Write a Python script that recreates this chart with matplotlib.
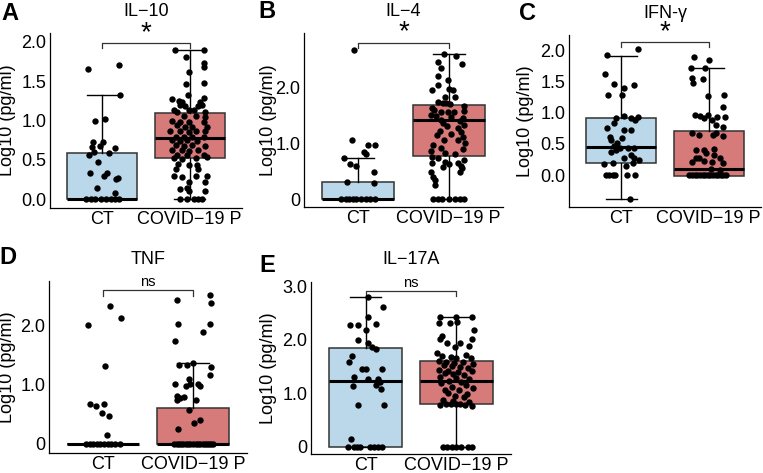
import matplotlib
matplotlib.use("Agg")
import numpy as np
import matplotlib.pyplot as plt

plt.rcParams['font.family'] = ['Liberation Sans', 'DejaVu Sans']

groups = ["CT", "COVID\u221219 P"]
titles = ["IL\u221210", "IL\u22124", "IFN-\u03b3", "TNF", "IL\u221217A"]
letters = ["A", "B", "C", "D", "E"]
signif = ["*", "*", "*", "ns", "ns"]

# box stats per panel : (whislo, q1, med, q3, whishi) for CT and COVID
box_ct = [(0, 0, 0, 0.59, 1.32), (0, 0, 0, 0.30, 0.74), (-0.39, 0.20, 0.45, 0.91, 1.90),
          (0, 0, 0, 0, 0), (0, 0, 1.23, 1.85, 2.80)]
box_cov = [(0, 0.53, 0.78, 1.10, 1.89), (0, 0.78, 1.41, 1.68, 2.59), (-0.02, -0.02, 0.09, 0.71, 1.72),
           (0, 0, 0, 0.60, 1.36), (0, 0.80, 1.23, 1.60, 2.42)]

# IL-10
il10_ct = [1.65, 1.71, 1.32, 0.99, 1.02, 0.73, 0.73, 0.67, 0.68, 0.65, 0.60, 0.56, 0.59, 0.47, 0.33,
           0.34, 0.29, 0.27, 0.26, 0.14, 0.08, 0, 0, 0, 0, 0, 0, 0, 0]
il10_ct_jit = [-0.16, 0.19, 0.20, -0.09, 0.03, -0.11, 0.01, -0.12, -0.03, 0.15, -0.10, -0.15, 0.08, -0.05, -0.14,
               0.05, 0.02, 0.18, 0.16, -0.06, 0.15, -0.19, -0.13, -0.08, -0.02, 0.04, 0.10, 0.15, 0.19]
il10_cov = [1.89, 1.89, 1.81, 1.73, 1.68, 1.62, 1.46, 1.47, 1.32, 1.29, 1.27, 1.25, 1.23, 1.23, 1.20, 1.18, 1.18,
            1.20, 1.13, 1.11, 1.13, 1.13, 1.11, 1.06, 1.06, 1.05, 0.99, 0.98, 0.98, 0.98, 0.94, 0.92, 0.92, 0.92,
            0.87, 0.87, 0.86, 0.87, 0.87, 0.79, 0.79, 0.79, 0.79, 0.75, 0.74, 0.75, 0.74, 0.69, 0.68, 0.69, 0.68,
            0.62, 0.62, 0.61, 0.62, 0.56, 0.56, 0.56, 0.52, 0.51, 0.52, 0.54, 0.45, 0.44, 0.44, 0.39, 0.39, 0.30,
            0.28, 0.30, 0.29, 0.22, 0.22, 0.15, 0.13, 0.10, 0.10, 0, 0, 0, 0, 0]
il10_cov_jit = [-0.17, 0.16, -0.04, 0.17, 0.17, -0.01, -0.04, 0.16, -0.02, 0.16, -0.20, -0.12, -0.09, 0.12, -0.11,
                -0.05, 0.10, 0.14, -0.18, -0.14, -0.01, 0.05, 0.18, -0.07, 0.07, 0.18, -0.20, -0.11, -0.01, 0.16,
                -0.14, -0.05, 0.03, 0.20, -0.22, -0.11, -0.01, 0.07, 0.18, -0.16, -0.07, 0.03, 0.16, -0.20, -0.11,
                -0.03, 0.08, -0.16, -0.07, 0.03, 0.18, -0.20, -0.09, -0.01, 0.10, -0.14, -0.03, 0.16, -0.18, -0.09,
                0.07, 0.20, -0.13, -0.01, 0.08, -0.16, 0.10, -0.18, -0.09, 0.07, 0.20, -0.01, 0.18, -0.03, -0.11,
                -0.01, 0.18, -0.11, -0.03, 0.05, 0.10, 0.14]

# IL-4
il4_ct = [2.67, 1.05, 0.96, 0.96, 0.84, 0.81, 0.74, 0.62, 0.60, 0.49, 0.30, 0.29, 0, 0, 0, 0, 0, 0, 0, 0, 0]
il4_ct_jit = [-0.05, -0.07, 0.11, 0.19, 0.06, 0.08, -0.16, -0.09, -0.03, 0.17, -0.12, 0.17,
              -0.19, -0.14, -0.10, -0.06, -0.02, 0.03, 0.08, 0.13, 0.19]
il4_cov = [2.59, 2.55, 2.46, 2.41, 2.35, 2.21, 2.13, 2.04, 1.95, 1.97, 1.95, 1.83, 1.83, 1.74, 1.71, 1.71, 1.70,
           1.66, 1.63, 1.60, 1.56, 1.56, 1.56, 1.58, 1.51, 1.48, 1.47, 1.45, 1.42, 1.39, 1.36, 1.33, 1.30, 1.28,
           1.21, 1.20, 1.17, 1.15, 1.12, 1.06, 1.05, 1.00, 0.97, 0.92, 0.90, 0.86, 0.83, 0.80, 0.76, 0.73, 0.70,
           0.66, 0.64, 0.62, 0.64, 0.60, 0.58, 0.55, 0.49, 0.49, 0.40, 0.35, 0.26, 0, 0, 0, 0, 0, 0, 0]
il4_cov_jit = [-0.05, 0.08, -0.12, 0.15, -0.09, -0.12, -0.01, -0.12, -0.19, 0.0, 0.05, 0.07, -0.04, -0.12, -0.06,
               -0.03, 0.01, 0.17, -0.19, -0.16, -0.08, -0.01, 0.06, 0.17, -0.20, -0.14, 0.03, 0.16, -0.09, 0.13,
               -0.06, 0.17, -0.02, 0.10, -0.10, 0.14, 0.02, -0.13, 0.16, -0.05, 0.10, 0.18, -0.17, -0.08, 0.16,
               -0.20, -0.04, 0.07, -0.18, -0.12, 0.17, -0.04, -0.18, 0.0, 0.10, 0.14, -0.06, 0.15, -0.20, 0.12,
               -0.17, -0.15, -0.15, -0.17, -0.12, -0.07, 0.0, 0.07, 0.12, 0.17]

# IFN-g
ifng_ct = [2.01, 1.92, 1.62, 1.46, 1.39, 1.44, 1.28, 1.28, 0.92, 0.94, 0.91, 0.88, 0.93, 0.83, 0.75, 0.72, 0.72,
           0.61, 0.60, 0.56, 0.51, 0.46, 0.44, 0.44, 0.44, 0.40, 0.37, 0.27, 0.28, 0.32, 0.24, 0.18, 0.19, 0.14,
           0.19, 0, 0, 0, 0, 0, 0, -0.39]
ifng_ct_jit = [0.19, -0.17, -0.19, -0.09, 0.03, 0.14, -0.15, 0.01, -0.06, 0.03, 0.11, 0.16, 0.19, -0.09, -0.17,
               0.03, 0.11, -0.13, 0.01, -0.12, -0.05, -0.08, -0.01, 0.08, 0.15, -0.06, -0.12, 0.03, 0.15, 0.11,
               0.20, -0.20, -0.10, 0.05, 0.13, -0.18, -0.14, -0.10, -0.07, 0.07, 0.16, 0.10]
ifng_cov = [1.89, 1.84, 1.71, 1.72, 1.55, 1.53, 1.47, 1.26, 1.28, 1.09, 0.96, 0.94, 0.92, 0.96, 0.88, 0.93, 0.93,
            0.80, 0.77, 0.67, 0.64, 0.64, 0.67, 0.63, 0.40, 0.40, 0.42, 0.35, 0.32, 0.28, 0.27, 0.28, 0.21, 0.22,
            0.21, 0.19, 0.09, 0.08, 0, 0, 0, 0, 0, 0, 0, 0, 0, 0, 0, 0, 0, 0, 0]
ifng_cov_jit = [-0.17, 0.0, -0.20, -0.04, -0.19, -0.06, -0.18, -0.01, 0.18, 0.17, -0.16, -0.10, -0.05, -0.01, 0.04,
                0.10, 0.19, 0.08, 0.17, -0.19, -0.11, 0.05, 0.09, 0.16, -0.15, -0.05, 0.06, -0.03, 0.06, -0.11,
                -0.15, 0.13, -0.19, -0.05, 0.04, 0.16, 0.03, 0.13, -0.22, -0.19, -0.16, -0.13, -0.10, -0.07, -0.04,
                -0.01, 0.02, 0.05, 0.08, 0.11, 0.14, 0.17, 0.20]

# TNF
tnf_ct = [2.0, 2.33, 2.12, 1.32, 0.67, 0.63, 0.67, 0.51, 0.46, 0.14, 0, 0, 0, 0, 0, 0, 0, 0, 0, 0]
tnf_ct_jit = [-0.17, 0.08, 0.20, 0.02, -0.15, -0.08, 0.01, -0.01, 0.07, 0.04,
              -0.19, -0.15, -0.11, -0.07, -0.03, 0.01, 0.05, 0.09, 0.13, 0.19]
tnf_cov = [2.43, 2.51, 2.37, 2.02, 2.02, 1.89, 1.74, 1.33, 1.33, 1.37, 1.29, 1.16, 1.10, 1.01, 0.97, 1.0, 1.0,
           0.97, 0.80, 0.77, 0.79, 0.74, 0.74, 0.57, 0.40, 0.35, 0.25, 0, 0, 0, 0, 0, 0, 0, 0, 0, 0, 0, 0, 0,
           0, 0, 0, 0, 0]
tnf_cov_jit = [-0.18, 0.19, 0.20, -0.17, 0.19, 0.11, -0.20, -0.16, -0.07, 0.0, 0.20, 0.19, -0.04, -0.20, -0.08,
               -0.03, 0.06, 0.08, -0.18, -0.14, -0.10, -0.18, 0.03, -0.05, 0.08, 0.01, -0.17,
               -0.21, -0.18, -0.16, -0.13, -0.11, -0.08, -0.06, -0.03, 0.0, 0.03, 0.06, 0.08, 0.11, 0.13, 0.16,
               0.18, 0.20, 0.22]

# IL-17A
il17_ct = [2.80, 2.62, 2.27, 2.27, 2.30, 2.43, 2.19, 1.99, 1.94, 1.87, 1.82, 1.69, 1.58, 1.45, 1.46, 1.46, 1.31,
           1.13, 1.26, 1.26, 1.20, 1.15, 1.07, 0.77, 0.77, 0.14, 0, 0, 0, 0, 0, 0, 0, 0]
il17_ct_jit = [0.03, 0.19, -0.17, -0.08, 0.11, 0.03, 0.01, -0.08, 0.03, 0.07, 0.11, -0.15, -0.18, -0.04, 0.0,
               0.18, -0.13, -0.14, 0.03, 0.14, 0.16, 0.11, 0.17, -0.08, 0.20, -0.16,
               -0.19, -0.13, -0.09, -0.06, 0.05, 0.09, 0.14, 0.18]
il17_cov = [2.42, 2.42, 2.42, 2.31, 2.31, 2.33, 2.19, 2.07, 2.01, 2.02, 1.93, 1.94, 1.87, 1.89, 1.76, 1.70, 1.68,
            1.66, 1.71, 1.65, 1.60, 1.58, 1.57, 1.59, 1.55, 1.52, 1.50, 1.49, 1.47, 1.44, 1.42, 1.40, 1.41, 1.37,
            1.35, 1.33, 1.30, 1.28, 1.27, 1.23, 1.20, 1.18, 1.16, 1.12, 1.10, 1.06, 1.05, 1.00, 0.98, 0.95, 0.92,
            0.88, 0.85, 0.83, 0.80, 0.80, 0.79, 0.80, 0.78, 0.76, 0.78, 0, 0, 0, 0, 0, 0, 0]
il17_cov_jit = [-0.18, 0.0, 0.17, -0.19, -0.07, 0.01, 0.19, -0.16, -0.18, 0.17, -0.10, 0.04, -0.02, 0.14, -0.21,
                -0.16, -0.06, 0.0, 0.11, 0.16, -0.19, -0.11, -0.03, 0.07, 0.18, -0.14, -0.05, 0.04, 0.13, -0.19,
                -0.09, 0.02, 0.17, -0.13, -0.04, 0.08, -0.18, 0.0, 0.14, -0.08, 0.05, -0.17, 0.11, -0.05, 0.18,
                -0.13, 0.03, -0.09, 0.12, -0.02, 0.08, -0.15, -0.04, 0.14, -0.11, -0.06, 0.0, 0.04, 0.09, 0.17,
                -0.18, -0.15, -0.10, -0.05, 0.0, 0.05, 0.13, 0.17]

ct_vals = [il10_ct, il4_ct, ifng_ct, tnf_ct, il17_ct]
ct_jit = [il10_ct_jit, il4_ct_jit, ifng_ct_jit, tnf_ct_jit, il17_ct_jit]
cov_vals = [il10_cov, il4_cov, ifng_cov, tnf_cov, il17_cov]
cov_jit = [il10_cov_jit, il4_cov_jit, ifng_cov_jit, tnf_cov_jit, il17_cov_jit]

yticks = [[0, 0.5, 1, 1.5, 2], [0, 1, 2], [0, 0.5, 1, 1.5, 2], [0, 1, 2], [0, 1, 2, 3]]
ytlabels = [["0.0", "0.5", "1.0", "1.5", "2.0"], ["0", "1.0", "2.0"], ["0.0", "0.5", "1.0", "1.5", "2.0"],
            ["0", "1.0", "2.0"], ["0", "1.0", "2.0", "3.0"]]
ylims = [(-0.11, 2.11), (-0.14, 2.97), (-0.51, 2.24), (-0.16, 2.75), (-0.14, 3.08)]
bracket_y = [1.98, 2.80, 2.13, 2.59, 2.91]

# layout en pixels (gauche, haut, droite, bas)
W, H = 763, 473
boxes_px = [(50, 33, 242, 208), (304, 33, 503, 207), (569, 35, 761, 207),
            (49, 281, 247, 453), (311, 282, 511, 454)]
letter_px = [(10, 13), (267, 11), (527, 13), (8, 257), (267, 265)]
# bord droit du label y
ylab_px = [16, 277, 534, 16, 277]

col_ct = "#bad8ea"
col_cov = "#d67a7a"
fs = 13

fig = plt.figure(figsize=(W / 100, H / 100), dpi=100)

for i in range(5):
    l, t, r, b = boxes_px[i]
    ax = fig.add_axes([l / W, 1 - b / H, (r - l) / W, (b - t) / H])
    stats = []
    for bx in (box_ct[i], box_cov[i]):
        stats.append(dict(whislo=bx[0], q1=bx[1], med=bx[2], q3=bx[3], whishi=bx[4], fliers=[]))
    bp = ax.bxp(stats, positions=[1, 2], widths=0.8, patch_artist=True, showfliers=False,
                boxprops=dict(edgecolor="#333333", linewidth=1.1),
                medianprops=dict(color="black", linewidth=2.2),
                whiskerprops=dict(color="black", linewidth=1.0),
                capprops=dict(color="black", linewidth=1.0),
                capwidths=0.35, manage_ticks=False)
    bp["boxes"][0].set_facecolor(col_ct)
    bp["boxes"][1].set_facecolor(col_cov)

    ax.scatter(1 + np.array(ct_jit[i]), ct_vals[i], s=21, color="black", lw=0, zorder=4)
    ax.scatter(2 + np.array(cov_jit[i]), cov_vals[i], s=21, color="black", lw=0, zorder=4)

    ax.set_xlim(0.4, 2.6)
    ax.set_ylim(*ylims[i])
    ax.set_xticks([1, 2])
    ax.set_xticklabels(groups)
    ax.set_yticks(yticks[i])
    ax.set_yticklabels(ytlabels[i])
    ax.tick_params(length=0, pad=2.5, labelsize=fs, colors="black")
    ax.tick_params(axis="x", pad=2)
    for s in ["top", "right"]:
        ax.spines[s].set_visible(False)
    for s in ["left", "bottom"]:
        ax.spines[s].set_linewidth(0.9)
    ax.set_ylabel("Log10 (pg/ml)", fontsize=fs)
    ax.yaxis.set_label_coords((ylab_px[i] - l) / (r - l), 0.5)

    # crochet de significativite
    yb = bracket_y[i]
    d = (ylims[i][1] - ylims[i][0]) * 0.03
    ax.plot([1, 1, 2, 2], [yb - d, yb, yb, yb - d], color="#333333", lw=0.9, clip_on=False)
    if signif[i] == "*":
        ax.text(1.5, yb - d * 0.6, "*", ha="center", va="bottom", fontsize=20, clip_on=False)
    else:
        ax.text(1.5, yb + d * 0.3, "ns", ha="center", va="bottom", fontsize=10.5, clip_on=False)

    fig.text((l + r) / 2 / W, 1 - (t - 22) / H, titles[i], ha="center", va="center", fontsize=fs)
    lx, ly = letter_px[i]
    fig.text(lx / W, 1 - ly / H, letters[i], ha="center", va="center", fontsize=17, fontweight="bold")

fig.savefig("out.png", dpi=100)
